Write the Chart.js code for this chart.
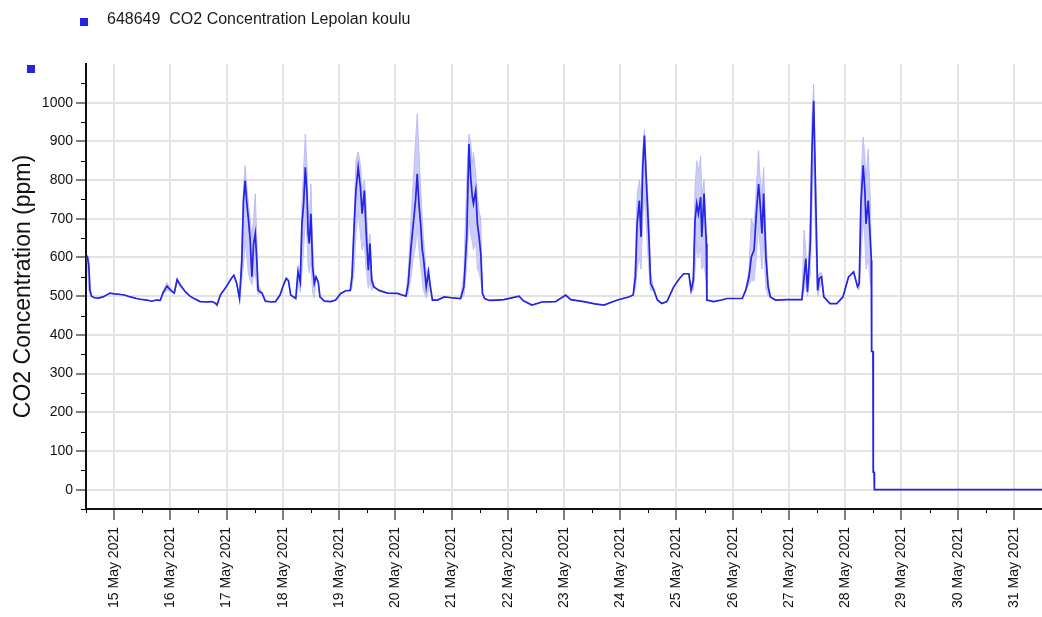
<!DOCTYPE html>
<html><head><meta charset="utf-8">
<script src="https://cdn.jsdelivr.net/npm/chart.js@4.4.1/dist/chart.umd.min.js"></script>
<style>html,body{margin:0;padding:0;background:#fff;}#wrap{position:relative;width:1042px;height:617px;}</style>
</head><body><div id="wrap"><canvas id="c" width="1042" height="617"></canvas></div>
<script>
const seriesLabel = '648649  CO2 Concentration Lepolan koulu';
const axisTitle = 'CO2 Concentration (ppm)';
const dayTicks = [15,16,17,18,19,20,21,22,23,24,25,26,27,28,29,30,31];
const monthLabel = 'May 2021';
const yTicks = [0,100,200,300,400,500,600,700,800,900,1000];

const times = [14.52,14.55,14.57,14.60,14.65,14.72,14.80,14.93,15.00,15.08,15.18,15.29,15.40,15.47,15.58,15.67,15.75,15.82,15.87,15.94,16.01,16.07,16.12,16.18,16.27,16.35,16.42,16.53,16.65,16.74,16.80,16.83,16.89,16.95,17.01,17.08,17.13,17.18,17.23,
17.27,17.30,17.33,17.36,17.39,17.42,17.45,17.48,17.51,17.54,17.56,17.63,17.69,17.80,17.87,17.95,18.01,18.06,18.10,18.14,18.23,
18.27,18.31,18.34,18.37,18.40,18.43,18.45,18.47,18.50,18.53,18.56,18.59,18.63,18.66,18.74,18.85,18.94,19.03,19.12,19.20,
19.23,19.27,19.30,19.34,19.38,19.41,19.45,19.48,19.52,19.55,19.58,19.62,19.71,19.86,20.04,20.12,20.19,
20.23,20.28,20.32,20.36,20.39,20.42,20.45,20.48,20.50,20.55,20.59,20.62,20.66,20.75,20.87,21.00,21.16,
21.22,21.27,21.31,21.34,21.37,21.39,21.43,21.46,21.49,21.52,21.55,21.59,21.67,21.80,21.93,22.05,22.20,22.28,22.43,22.61,22.85,23.03,23.12,23.35,23.55,23.71,23.95,24.15,24.23,
24.27,24.30,24.34,24.37,24.40,24.43,24.46,24.48,24.51,24.54,24.60,24.66,24.74,24.83,24.95,25.05,25.13,25.22,25.26,
25.30,25.33,25.36,25.39,25.43,25.45,25.49,25.53,25.54,25.66,25.80,25.90,26.05,26.17,26.23,
26.29,26.33,26.38,26.42,26.46,26.48,26.52,26.55,26.59,26.63,26.67,26.76,26.96,27.10,27.23,
27.27,27.30,27.33,27.38,27.41,27.44,27.46,27.49,27.51,27.54,27.58,27.62,27.73,27.85,27.96,28.06,28.15,28.22,
28.25,28.28,28.32,28.35,28.37,28.41,28.45,28.465,28.47,28.495,28.50,28.515,28.52,31.5];

const co2 = [605,580,515,500,496,495,498,508,506,505,503,498,494,492,490,487,490,489,509,526,515,508,543,528,511,500,494,486,485,486,482,477,503,515,528,545,554,533,494,
589,747,799,739,696,644,550,636,662,584,515,508,487,485,486,503,528,546,540,503,494,
563,537,687,739,833,765,662,636,713,576,533,550,537,498,487,486,490,507,514,515,
550,687,773,833,782,713,773,670,567,636,541,524,515,508,507,503,500,
533,627,687,747,816,739,687,619,600,524,563,528,490,490,498,496,494,
524,653,893,808,756,739,773,687,653,610,507,494,489,490,491,495,500,488,477,485,486,503,491,486,480,477,490,498,503,
550,687,747,653,833,915,808,747,653,533,515,490,481,486,524,545,558,558,515,
541,696,739,713,756,653,765,636,490,486,490,494,494,494,515,
550,601,619,713,790,756,662,765,601,524,498,490,491,491,491,
550,597,511,636,876,1005,868,653,515,546,550,498,481,481,498,550,563,524,
533,739,838,773,687,747,636,593,357,357,45,45,0,0];

const co2Max = [605,600,530,500,496,495,498,508,506,505,503,498,494,492,490,487,490,489,512,535,518,510,546,530,511,500,494,486,485,486,482,477,503,515,528,545,554,533,494,
620,780,838,780,740,700,650,700,765,640,530,508,487,485,486,503,528,546,540,503,494,
580,560,740,830,919,840,720,700,790,640,545,550,537,498,487,486,490,507,514,515,
570,720,850,873,840,780,800,740,620,660,560,524,515,508,507,503,500,
560,700,800,900,971,880,780,700,650,560,575,528,490,490,498,496,494,
560,800,919,900,840,872,820,760,720,700,507,494,489,490,491,495,500,488,477,485,486,503,491,486,480,477,490,498,503,
600,760,800,760,880,930,850,790,700,560,515,490,481,486,524,545,558,558,515,
560,780,850,820,862,760,800,660,490,486,490,494,494,494,515,
570,700,680,780,876,820,760,833,660,540,498,490,491,491,491,
670,620,520,720,960,1048,900,700,540,560,560,498,481,481,498,550,563,524,
550,800,911,860,800,880,740,593,357,357,45,45,0,0];

const co2Min = [600,515,505,500,496,495,498,508,506,505,503,498,494,492,490,487,490,489,506,515,512,506,538,524,511,500,494,486,485,486,482,477,503,515,528,545,554,533,494,
540,580,640,600,560,540,530,550,560,520,505,508,487,485,486,503,528,546,540,503,494,
530,510,560,620,700,650,580,560,590,510,495,550,537,498,487,486,490,507,514,515,
520,570,660,720,660,620,640,570,520,540,515,524,515,508,507,503,500,
505,550,600,630,680,620,580,540,515,495,515,528,490,490,498,496,494,
500,580,700,660,640,620,640,570,560,540,507,494,489,490,491,495,500,488,477,485,486,503,491,486,480,477,490,498,503,
520,570,600,570,700,760,690,640,570,515,515,490,481,486,524,545,558,558,515,
515,570,640,600,630,570,580,540,490,486,490,494,494,494,515,
530,540,540,600,680,640,570,640,520,500,498,490,491,491,491,
515,530,500,560,740,860,720,570,500,515,535,498,481,481,498,550,563,524,
515,600,700,650,570,600,530,593,357,357,45,45,0,0];

const FONT = "'Liberation Sans', Arial, sans-serif";
const toXY = arr => times.map((t, i) => ({x: t, y: arr[i]}));

const decor = {
  id: 'decor',
  afterDraw(chart) {
    const {ctx, scales: {x, y}, chartArea: a} = chart;
    ctx.save();
    ctx.strokeStyle = '#000';
    ctx.lineWidth = 1;
    ctx.beginPath();
    for (let v = -50; v <= 1050; v += 100) {
      const py = Math.round(y.getPixelForValue(v)) + 0.5;
      ctx.moveTo(a.left - 5, py); ctx.lineTo(a.left, py);
    }
    for (let d = 14.5; d <= 31.5; d += 1) {
      const px = Math.round(x.getPixelForValue(d)) + 0.5;
      ctx.moveTo(px, a.bottom); ctx.lineTo(px, a.bottom + 4);
    }
    ctx.stroke();
    ctx.fillStyle = '#2323e0';
    ctx.fillRect(80, 18, 8, 8);
    ctx.fillRect(27, 65, 8, 8);
    ctx.fillStyle = '#1a1a1a';
    ctx.font = '16px ' + FONT;
    ctx.textBaseline = 'middle';
    ctx.textAlign = 'left';
    ctx.fillText(seriesLabel, 107, 20);
    ctx.restore();
  }
};

new Chart(document.getElementById('c'), {
  type: 'line',
  data: {
    datasets: [
      {label: seriesLabel, data: toXY(co2), borderColor: '#2424e6', borderWidth: 1.7, pointRadius: 0, tension: 0, fill: false, order: 0},
      {label: 'max', data: toXY(co2Max), borderColor: 'rgba(185,185,244,0.9)', borderWidth: 1, pointRadius: 0, tension: 0, fill: '+1', backgroundColor: 'rgba(198,198,246,0.9)', order: 1},
      {label: 'min', data: toXY(co2Min), borderColor: 'rgba(185,185,244,0.9)', borderWidth: 1, pointRadius: 0, tension: 0, fill: false, order: 2}
    ]
  },
  options: {
    responsive: false,
    animation: false,
    devicePixelRatio: 1,
    layout: {padding: {top: 64, left: 0, right: 0, bottom: 0}},
    plugins: {legend: {display: false}, tooltip: {enabled: false}},
    scales: {
      x: {
        type: 'linear', min: 14.5, max: 31.5,
        afterBuildTicks: s => { s.ticks = dayTicks.map(v => ({value: v})); },
        afterFit: s => { s.height = 108; },
        ticks: {callback: v => v + ' ' + monthLabel, maxRotation: 90, minRotation: 90, autoSkip: false, padding: 7,
                font: {family: FONT, size: 14}, color: '#111'},
        grid: {color: '#e3e3e3', lineWidth: 2, drawTicks: true, tickLength: 11, tickColor: '#000', tickWidth: 1},
        border: {display: true, color: '#111', width: 2}
      },
      y: {
        type: 'linear', min: -50, max: 1100,
        afterBuildTicks: s => { s.ticks = yTicks.map(v => ({value: v})); },
        afterFit: s => { s.width = 86; },
        ticks: {callback: v => String(v), padding: 3, font: {family: FONT, size: 14}, color: '#111'},
        title: {display: true, text: axisTitle, font: {family: FONT, size: 23}, color: '#111', padding: {top: 10, bottom: 0}},
        grid: {color: '#e3e3e3', lineWidth: 2, drawTicks: true, tickLength: 10, tickColor: '#000', tickWidth: 1},
        border: {display: true, color: '#111', width: 2}
      }
    }
  },
  plugins: [decor]
});
</script></body></html>
